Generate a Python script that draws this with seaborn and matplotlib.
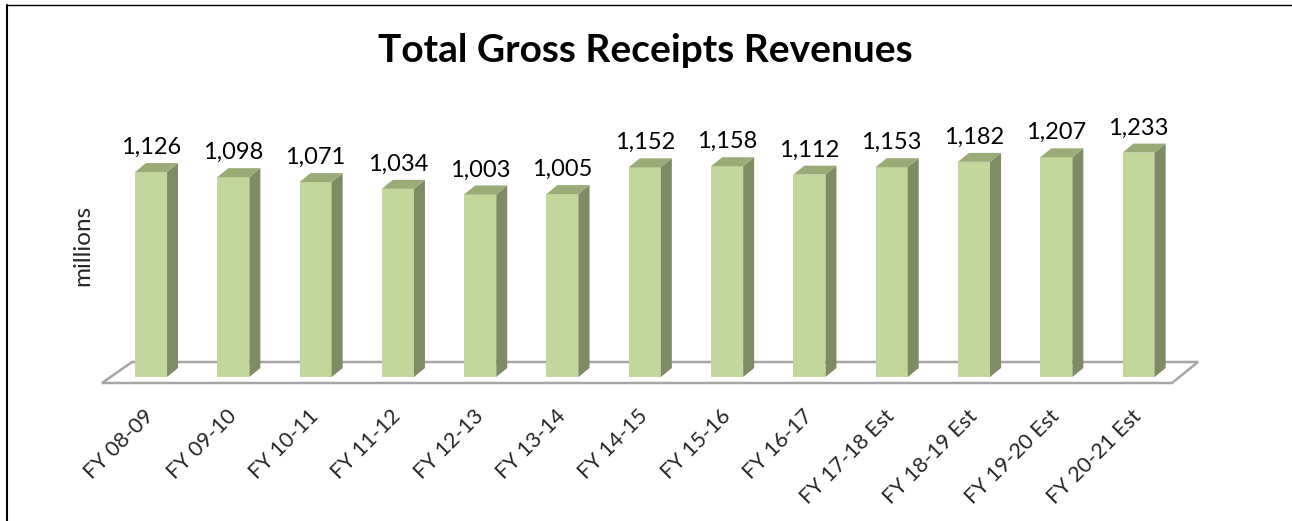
import matplotlib
matplotlib.use("Agg")
import matplotlib.pyplot as plt
from matplotlib.patches import Polygon
from matplotlib.lines import Line2D
import seaborn as sns

# Fiscal years and gross receipts revenues (millions)
periods = ["FY 08-09", "FY 09-10", "FY 10-11", "FY 11-12", "FY 12-13", "FY 13-14",
           "FY 14-15", "FY 15-16", "FY 16-17", "FY 17-18 Est", "FY 18-19 Est",
           "FY 19-20 Est", "FY 20-21 Est"]
revenues = [1126, 1098, 1071, 1034, 1003, 1005, 1152, 1158, 1112, 1153, 1182, 1207, 1233]

TITLE = "Total Gross Receipts Revenues"
YLABEL = "millions"

FRONT = "#c3d69b"
SIDE = "#7f8b63"
TOP = "#9bab78"
FLOOR_EDGE = "#a6a6a6"

sns.set_theme(style="white")
plt.rcParams["font.family"] = ["Lato", "DejaVu Sans"]

W, H = 1292, 521
fig = plt.figure(figsize=(W / 100, H / 100), dpi=100)

# axes geometry in pixels
pitch = 82.3          # px per category
ppu = 0.182           # px per million
x0_px = 151 - 0.5 * pitch
base_px = 377
ymax = 1400
ax = fig.add_axes([x0_px / W, (H - base_px) / H, 13 * pitch / W, ymax * ppu / H])

sns.barplot(x=periods, y=revenues, color=FRONT, saturation=1, width=0.39,
            linewidth=0, ax=ax, zorder=3)
ax.set_xlim(-0.5, 12.5)
ax.set_ylim(0, ymax)

# depth of the 3-D look, converted from pixels to data units
dx = 11 / pitch
dy = 9 / ppu

# floor plane under the bars
fl, fb = -6 / ppu, 15 / ppu
floor = Polygon([(-49 / pitch, fl), (-19 / pitch, fb), (1047 / pitch, fb), (1021 / pitch, fl)],
                closed=True, facecolor="white", edgecolor=FLOOR_EDGE, lw=1.8,
                zorder=1, clip_on=False)
ax.add_patch(floor)

for p in list(ax.patches):
    if p is floor:
        continue
    x = p.get_x()
    w = p.get_width()
    h = p.get_height()
    side = Polygon([(x + w, 0), (x + w + dx, dy), (x + w + dx, h + dy), (x + w, h)],
                   closed=True, facecolor=SIDE, edgecolor="none", zorder=3, clip_on=False)
    top = Polygon([(x, h), (x + w, h), (x + w + dx, h + dy), (x + dx, h + dy)],
                  closed=True, facecolor=TOP, edgecolor="none", zorder=3, clip_on=False)
    ax.add_patch(side)
    ax.add_patch(top)

for i, v in enumerate(revenues):
    ax.text(i, v + 18 / ppu, f"{v:,}", ha="center", va="baseline", fontsize=17,
            color="black", zorder=5, clip_on=False)

for s in ax.spines.values():
    s.set_visible(False)
ax.set_yticks([])
ax.set_xticks(range(len(periods)))
ax.set_xticklabels(periods, rotation=45, ha="right", va="center",
                   rotation_mode="anchor", fontsize=15.5)
ax.tick_params(axis="x", length=0, pad=26)
ax.set_xlabel("")
ax.set_ylabel(YLABEL, fontsize=17.5)
ax.yaxis.set_label_coords((93 - x0_px) / (13 * pitch), (base_px - 245) / (ymax * ppu))

fig.text(645.5 / W, 1 - 62 / H, TITLE, ha="center", va="baseline",
         fontsize=28, fontweight="bold", color="black")

# outer frame: left and top edges
fig.add_artist(Line2D([6.7 / W, 6.7 / W], [0, 1 - 5 / H], color="black", lw=1.5))
fig.add_artist(Line2D([6.7 / W, 1], [1 - 5 / H, 1 - 5 / H], color="black", lw=1.0))

fig.savefig("out.png", dpi=100, facecolor="white")
